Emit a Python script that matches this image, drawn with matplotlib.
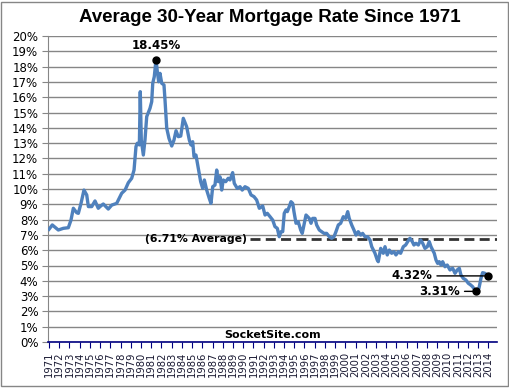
import matplotlib
matplotlib.use("Agg")
import matplotlib.pyplot as plt
from matplotlib.patches import Rectangle

# ---- data (decimal year, 30-year mortgage rate in %) ----
years = [
    1971.00, 1971.32, 1971.91, 1972.40, 1972.89, 1973.15, 1973.38, 1973.71, 1973.87,
    1974.13, 1974.42, 1974.69, 1974.85, 1975.18, 1975.50, 1975.82,
    1975.99, 1976.31, 1976.80, 1977.14, 1977.62, 1978.11, 1978.44, 1978.76, 1979.09,
    1979.32, 1979.51, 1979.64, 1979.84, 1979.93, 1980.03, 1980.23, 1980.39, 1980.56,
    1980.88, 1981.05, 1981.15, 1981.30, 1981.47, 1981.60, 1981.73, 1981.86, 1982.03,
    1982.25, 1982.35, 1982.52, 1982.74, 1983.01, 1983.23, 1983.43, 1983.65, 1983.89,
    1984.14, 1984.47, 1984.73, 1984.89, 1985.06, 1985.19, 1985.38, 1985.61, 1985.84,
    1986.04, 1986.20, 1986.43, 1986.68, 1986.85, 1987.02, 1987.24, 1987.41, 1987.57,
    1987.73, 1987.90, 1988.05, 1988.29, 1988.54, 1988.71, 1988.97, 1989.13, 1989.42,
    1989.69, 1989.91, 1990.18, 1990.50, 1990.77, 1991.06, 1991.32, 1991.58, 1991.91,
    1992.14, 1992.36, 1992.62, 1992.89, 1993.11, 1993.34, 1993.53, 1993.70, 1993.87,
    1994.02, 1994.19, 1994.32, 1994.51, 1994.68, 1994.85, 1994.97, 1995.17, 1995.39,
    1995.63, 1995.78, 1995.98, 1996.15, 1996.31, 1996.47, 1996.64, 1996.80, 1997.03,
    1997.19, 1997.45, 1997.68, 1997.91, 1998.17, 1998.43, 1998.66, 1998.89, 1999.08,
    1999.31, 1999.54, 1999.80, 2000.03, 2000.23, 2000.38, 2000.62, 2000.84, 2001.04,
    2001.26, 2001.50, 2001.69, 2001.92, 2002.18, 2002.41, 2002.58, 2002.90, 2003.12,
    2003.22, 2003.46, 2003.71, 2003.88, 2004.10, 2004.30, 2004.53, 2004.76, 2004.95,
    2005.18, 2005.41, 2005.67, 2005.90, 2006.10, 2006.32, 2006.55, 2006.71, 2006.91,
    2007.14, 2007.37, 2007.57, 2007.79, 2008.02, 2008.21, 2008.38, 2008.54, 2008.70,
    2008.87, 2009.03, 2009.19, 2009.36, 2009.52, 2009.75, 2009.97, 2010.24, 2010.50,
    2010.73, 2010.95, 2011.15, 2011.31, 2011.54, 2011.80, 2012.03, 2012.26, 2012.46,
    2012.75, 2012.88, 2013.07, 2013.27, 2013.43, 2013.66, 2013.83, 2013.99,
]
rates = [
    7.37, 7.65, 7.32, 7.43, 7.47, 7.97, 8.74, 8.45, 8.41,
    9.06, 9.93, 9.61, 8.85, 8.85, 9.22, 8.74,
    8.85, 9.02, 8.69, 8.95, 9.06, 9.72, 9.93, 10.41, 10.70,
    11.24, 12.77, 12.99, 12.88, 16.36, 13.20, 12.22, 13.20, 14.73,
    15.27, 15.71, 16.91, 17.34, 18.45, 17.67, 17.01, 17.56, 16.91,
    16.80, 15.82, 13.97, 13.31, 12.81, 13.20, 13.81, 13.42, 13.46,
    14.62, 14.07, 13.20, 12.88, 13.09, 12.11, 12.22, 11.35, 10.48,
    10.04, 10.59, 9.93, 9.39, 9.06, 10.15, 10.26, 11.24, 10.48,
    10.80, 9.93, 10.59, 10.48, 10.70, 10.59, 11.07, 10.37, 10.04,
    10.15, 9.93, 10.15, 10.04, 9.61, 9.50, 9.28, 8.74, 8.89,
    8.30, 8.41, 8.20, 7.97, 7.54, 7.43, 6.88, 7.21, 7.21,
    8.41, 8.63, 8.52, 8.85, 9.17, 9.06, 8.52, 7.76, 7.86,
    7.32, 7.10, 7.76, 8.30, 8.19, 8.08, 7.76, 8.08, 8.08,
    7.65, 7.32, 7.21, 7.10, 7.10, 6.88, 6.78, 6.88, 7.21,
    7.65, 7.76, 8.19, 8.08, 8.52, 8.08, 7.65, 7.32, 6.99,
    7.21, 6.99, 7.10, 6.88, 6.88, 6.67, 6.23, 5.80, 5.36,
    5.25, 6.12, 5.80, 6.23, 5.69, 6.01, 5.80, 5.90, 5.69,
    5.90, 5.80, 6.23, 6.34, 6.56, 6.78, 6.56, 6.34, 6.45,
    6.34, 6.67, 6.45, 6.12, 6.23, 6.56, 6.23, 6.01, 5.80,
    5.36, 5.14, 5.25, 5.03, 5.25, 4.92, 5.03, 4.71, 4.82,
    4.49, 4.71, 4.82, 4.38, 4.16, 4.05, 3.84, 3.73, 3.61,
    3.31, 3.40, 3.50, 4.16, 4.53, 4.49, 4.38, 4.32,
]
avg_rate = 6.71
year_labels = [str(y) for y in range(1971, 2015)]
ytick_values = list(range(0, 21))
title = "Average 30-Year Mortgage Rate Since 1971"
source = "SocketSite.com"

# ---- figure ----
W, H = 510, 388
fig = plt.figure(figsize=(W / 100, H / 100), dpi=100)
ax = fig.add_axes([48 / W, 1 - 342 / H, (497 - 48) / W, (342 - 36) / H])

ax.plot(years, rates, color="#4F81BD", lw=2.4, solid_joinstyle="round", zorder=3)

ax.set_xlim(1970.9, 2014.84)
ax.set_ylim(0, 20)

ax.set_yticks(ytick_values)
ax.set_yticklabels([f"{v}%" for v in ytick_values])
ax.yaxis.grid(True, color="#868686", lw=1)
ax.set_axisbelow(True)

ax.set_xticks(list(range(1971, 2015)))
ax.set_xticklabels(year_labels, rotation=90)

for s in ("top", "right"):
    ax.spines[s].set_visible(False)
ax.spines["left"].set_color("#868686")
ax.spines["bottom"].set_color("#000080")
ax.spines["bottom"].set_linewidth(1.2)

ax.tick_params(axis="y", direction="out", length=4, color="#868686",
               labelsize=8.5, pad=3)
ax.tick_params(axis="x", direction="out", length=4, color="#000080",
               labelsize=7.2, pad=3, labelcolor="#1a1a33")
for lab in ax.get_xticklabels() + ax.get_yticklabels():
    lab.set_family("DejaVu Sans")

# average line
ax.hlines(avg_rate, 1990.65, 2014.84, colors="#333333", lw=2.0,
          linestyles=(0, (3.6, 1.9)), zorder=2)
ax.text(1990.4, avg_rate, f"({avg_rate}% Average)", ha="right", va="center",
        fontsize=7.8, fontweight="bold", family="DejaVu Sans")

# peak / low / last markers
i_max = max(range(len(rates)), key=lambda i: rates[i])
i_min = min(range(len(rates)), key=lambda i: rates[i])
i_last = len(rates) - 1
for i in (i_max, i_min, i_last):
    ax.plot(years[i], rates[i], "o", color="black", ms=5, zorder=5)

ax.annotate(f"{rates[i_max]:.2f}%", (years[i_max], rates[i_max]),
            xytext=(0, 10), textcoords="offset points", ha="center", va="center",
            fontsize=8.5, fontweight="bold", family="DejaVu Sans")
ax.annotate(f"{rates[i_last]:.2f}%", (years[i_last], rates[i_last]),
            xytext=(-40, 0), textcoords="offset points", ha="right", va="center",
            fontsize=8.5, fontweight="bold", family="DejaVu Sans",
            arrowprops=dict(arrowstyle="-", color="black", lw=1,
                            shrinkA=1, shrinkB=0))
ax.annotate(f"{rates[i_min]:.2f}%", (years[i_min], rates[i_min]),
            xytext=(-11, 0), textcoords="offset points", ha="right", va="center",
            fontsize=8.5, fontweight="bold", family="DejaVu Sans",
            arrowprops=dict(arrowstyle="-", color="black", lw=1,
                            shrinkA=1, shrinkB=0))

fig.text(269.5 / W, 1 - 17 / H, title, ha="center", va="center",
         fontsize=13.5, fontweight="bold", family="Liberation Sans")
fig.text(273 / W, 1 - 335 / H, source, ha="center", va="center",
         fontsize=8, fontweight="bold", family="DejaVu Sans")

fig.patches.append(Rectangle((1 / W, 2 / H), (W - 3) / W, (H - 4) / H,
                             transform=fig.transFigure, fill=False,
                             ec="#868686", lw=1))

fig.savefig("out.png", dpi=100)
